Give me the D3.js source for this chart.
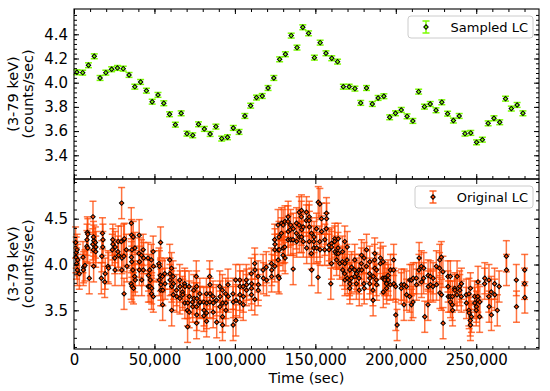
<!DOCTYPE html>
<html>
<head>
<meta charset="utf-8">
<script src="https://cdn.jsdelivr.net/npm/d3@7"></script>
<style>
  body { margin: 0; background: #fff; }
  text { font-family: "DejaVu Sans", sans-serif; }
</style>
</head>
<body>
<div id="chart"></div>
<script>
/* sampled light curve: time (sec) and rate (counts/sec) */
const sampledTime = [1800, 5400, 9000, 12600, 16200, 19800, 23400, 27000, 30600, 34200,
  37800, 41400, 45000, 48600, 52200, 55800, 59400, 63000, 66600, 70200,
  73800, 77400, 81000, 84600, 88200, 91800, 95400, 99000, 102600, 106200,
  109800, 113400, 117000, 120600, 124200, 127800, 131400, 135000, 138600, 142200,
  145800, 149400, 153000, 156600, 160200, 163800, 167400, 171000, 174600, 178200,
  181800, 185400, 189000, 192600, 196200, 199800, 203400, 207000, 210600, 214200,
  217800, 221400, 225000, 228600, 232200, 235800, 239400, 243000, 246600, 250200,
  253800, 257400, 261000, 264600, 268200, 271800, 275400, 279000];
const sampledRate = [4.086, 4.083, 4.144, 4.218, 4.039, 4.083, 4.111, 4.122, 4.116, 4.064,
  3.967, 4.006, 3.934, 3.843, 3.899, 3.830, 3.739, 3.653, 3.747, 3.579,
  3.565, 3.656, 3.618, 3.576, 3.637, 3.538, 3.549, 3.626, 3.593, 3.725,
  3.810, 3.877, 3.890, 3.956, 4.039, 4.193, 4.235, 4.389, 4.290, 4.458,
  4.408, 4.207, 4.331, 4.243, 4.202, 4.174, 3.967, 3.967, 3.951, 3.833,
  3.956, 3.824, 3.874, 3.888, 3.714, 3.747, 3.775, 3.722, 3.684, 3.926,
  3.802, 3.824, 3.772, 3.838, 3.744, 3.687, 3.725, 3.579, 3.585, 3.507,
  3.529, 3.664, 3.706, 3.673, 3.868, 3.786, 3.816, 3.747];
const sampledErr = 0.02;

/* original light curve: [time, rate] */
const originalLC = [
  [1000,4.24],[1400,4.13],[1200,4.08],[1600,4.01],[1900,4.16],[2300,4.05],[2100,3.94],[3300,3.90],
  [5600,4.08],[6000,3.97],[5800,3.94],[6800,3.99],[8000,4.20],[8300,4.35],[8600,4.33],[8100,4.27],[8500,4.18],
  [9500,3.85],[11800,4.52],[12200,3.98],[12000,4.16],[11700,4.22],[12300,4.26],[12100,4.30],
  [13300,4.24],[13600,4.19],[13500,4.14],[17000,3.85],[17300,4.09],[17700,4.34],[18000,4.27],[17900,4.19],
  [19100,3.81],[19400,3.90],[21100,3.98],[21500,3.96],[23800,4.16],[24100,4.27],[24200,4.22],
  [25300,4.07],[25600,4.19],[25500,3.94],[27300,4.14],[27700,4.10],[27500,4.25],
  [29600,4.67],[29400,4.25],[29800,4.07],[29700,3.94],[31100,3.68],[30900,4.27],[31300,4.28],[31000,4.09],
  [32500,4.16],[32900,3.98],[35600,4.45],[35800,4.32],[36000,4.16],[35700,4.08],[35900,4.03],[35500,3.79],[36100,3.76],
  [36800,4.30],[36600,3.94],[37000,3.74],[37900,4.18],[37700,3.87],[38100,3.83],
  [40400,4.12],[40700,4.03],[40600,3.94],[40500,4.32],[41900,4.10],[42100,3.83],
  [43000,4.16],[43300,4.07],[43100,3.94],[46000,4.07],[46300,3.88],[46200,3.76],
  [47200,3.76],[47000,3.94],[47400,3.83],[48100,4.05],[48300,3.74],[48200,3.68],
  [49200,4.14],[49400,3.98],[49300,3.65],[52800,4.01],[53100,3.98],[53000,3.83],
  [53800,4.24],[53700,3.88],[54000,3.78],[53900,3.72],[55000,3.87],[55200,3.72],[55100,3.56],
  [56400,3.90],[56600,3.79],[59500,4.05],[59700,3.83],[59600,3.90],[60600,3.96],[60800,3.76],[60700,3.50],
  [61600,3.87],[61800,3.79],[61700,3.67],[63700,3.72],[63900,3.65],[65700,3.83],[65900,3.76],[65800,3.63],
  [67400,3.70],[67600,3.67],[68800,3.79],[69000,3.76],[68900,3.58],[70500,3.50],[70600,3.32],[70700,3.58],
  [71500,3.76],[71700,3.65],[71600,3.48],[73600,3.59],[73800,3.54],[74400,3.72],[74600,3.63],
  [76000,3.87],[76200,3.76],[76400,3.63],[76100,3.54],[76300,3.45],[76200,3.36],
  [78100,3.58],[78300,3.59],[78200,3.68],[80600,3.59],[80800,3.50],[80700,3.44],
  [82300,3.68],[82500,3.58],[82400,3.47],[82400,3.38],[84300,3.87],[84500,3.78],[84600,3.68],[84400,3.59],
  [86400,3.65],[86600,3.58],[86500,3.48],[88500,3.61],[88700,3.37],[90600,3.76],[90800,3.65],[90700,3.54],
  [92200,3.72],[92400,3.58],[92300,3.43],[92300,3.34],[94300,3.68],[94500,3.58],[94400,3.50],
  [95700,3.78],[95900,3.65],[98800,3.68],[99000,3.59],[98900,3.34],[100500,3.83],[100700,3.61],[100600,3.39],
  [103000,3.83],[103200,3.76],[103100,3.67],[103000,3.59],[105100,3.76],[105300,3.65],[105200,3.56],
  [107100,3.83],[107300,3.78],[107200,3.72],[110200,3.90],[110400,3.79],[110300,3.74],[110300,3.67],
  [112300,4.01],[112500,3.94],[112400,3.62],[114400,3.87],[114600,3.78],[114500,3.72],
  [117500,3.94],[117700,3.85],[119500,3.97],[119700,3.83],[122700,4.01],[122900,3.94],[122800,3.87],
  [124700,4.27],[124900,4.22],[124800,4.16],[124800,3.98],[126800,4.43],[127000,4.16],[126900,4.05],[126900,3.87],
  [127500,3.85],[127600,4.16],[127400,4.30],[129000,4.45],[128900,4.34],[130000,4.43],[130100,4.18],[129900,4.10],
  [131100,4.47],[131000,4.19],[131200,4.07],[133100,4.52],[133000,4.47],[133200,4.36],[133100,4.27],
  [134600,4.43],[134500,4.38],[134700,4.27],[136200,3.95],[136100,4.27],[136300,4.39],
  [138300,4.45],[138200,4.34],[138400,4.25],[140000,4.57],[139900,4.43],[140100,4.30],
  [141400,4.59],[141300,4.52],[141500,4.38],[141400,4.30],[142400,4.41],[142500,4.25],
  [144500,4.57],[144400,4.48],[144600,4.18],[146200,4.52],[146100,4.48],[146300,4.41],[146200,4.25],
  [147600,4.34],[147500,4.12],[147700,3.94],[149100,4.18],[149000,4.25],[149200,4.30],
  [150700,4.39],[150800,4.18],[151800,4.68],[151700,3.86],[152800,4.66],[152700,4.25],[152900,4.16],
  [153800,4.50],[153900,4.36],[155900,4.27],[155800,4.16],[156900,4.56],[157000,4.50],[156800,4.39],
  [158600,4.21],[158500,4.16],[159600,3.79],[160000,4.23],[160100,4.19],[160000,4.01],
  [162100,4.28],[162000,4.25],[162200,4.14],[163100,4.12],[163200,4.05],[164200,4.28],[164100,4.18],[164300,4.12],
  [165200,4.01],[166900,4.14],[166800,4.03],[167000,3.94],[168300,4.01],[168200,3.90],[168400,3.83],[168300,4.25],
  [169800,4.19],[169700,4.05],[169900,3.85],[171400,3.94],[171300,3.83],[171500,3.79],[171400,3.74],
  [172500,3.97],[172400,3.85],[174500,4.05],[174400,3.94],[174600,3.87],[175600,3.90],[175500,3.79],
  [177200,3.94],[177100,3.85],[177300,3.72],[178700,4.10],[178600,4.01],[178800,3.94],
  [180300,4.07],[180200,3.79],[180400,3.74],[181800,4.16],[181700,3.98],
  [183800,4.03],[183700,3.90],[183900,3.85],[183800,3.79],[185900,3.61],[185800,3.72],[186000,3.87],
  [186900,4.12],[186800,4.05],[187000,3.96],[188000,3.94],[187900,3.83],[188100,3.78],
  [190500,4.07],[190400,4.01],[192100,4.03],[192000,3.85],[192200,3.70],[193200,3.85],[193100,3.83],
  [194200,3.79],[194300,3.74],[195200,3.88],[195300,3.83],[196700,3.94],[196600,3.78],
  [198700,4.05],[198600,3.94],[198800,3.79],[200000,3.45],[199900,3.76],[200800,3.34],
  [203500,3.78],[203400,3.74],[205200,3.78],[205100,3.56],[206600,3.76],[206700,3.67],
  [208700,3.83],[208600,3.65],[209700,3.56],[209800,3.83],[210800,3.85],[210700,3.59],
  [212800,3.85],[212900,3.78],[214500,4.07],[214400,3.94],[215900,3.98],[216000,3.81],
  [217400,3.96],[217300,3.85],[218000,3.43],[220100,3.88],[220000,3.56],[220200,3.76],
  [221500,3.87],[221600,3.78],[223200,3.85],[223100,3.76],[225200,3.98],[225300,3.78],
  [227300,4.05],[227200,3.96],[227400,3.69],[228300,4.08],[228400,3.67],[229400,3.36],[229300,3.92],
  [232500,3.76],[232400,3.87],[232600,3.65],[233900,3.87],[233800,3.65],[234000,3.59],
  [235200,3.65],[235100,3.56],[235300,3.50],[236600,3.74],[236700,3.72],[238100,3.87],[238000,3.67],
  [239700,3.76],[239800,3.72],[240800,3.79],[240700,3.65],[243900,3.58],[243800,3.67],
  [245500,3.68],[245400,3.50],[245600,3.47],[246400,3.74],[246300,3.39],[246400,3.34],[247000,3.43],
  [249000,3.65],[249100,3.58],[250100,3.54],[250000,3.50],[251100,3.81],[251000,3.65],[251200,3.61],
  [252200,3.59],[252100,3.43],[255300,3.85],[255200,3.79],[257900,3.83],[257800,3.65],[258000,3.54],
  [259400,3.45],[259300,3.70],[261500,3.67],[261400,3.79],[263100,3.50],[264200,3.76],
  [268700,4.09],[268800,3.94],[274900,3.83],[275000,3.54],[280100,3.94],[280000,3.79],[280200,3.64]
];
const originalErr = 0.17;

/* tick values */
const xTicks = [0, 50000, 100000, 150000, 200000, 250000];
const topYTicks = [3.4, 3.6, 3.8, 4.0, 4.2, 4.4];
const bottomYTicks = [3.5, 4.0, 4.5];

const width = 550;
const height = 391;
const margin = { left: 74, right: 11 };
const topPanel = { y0: 9, y1: 179 };
const bottomPanel = { y0: 179, y1: 349 };
const tickFont = 15;
const labelFont = 14.5;

const svg = d3.select("#chart")
    .append("svg")
    .attr("width", width)
    .attr("height", height);

// scales
const xScale = d3.scaleLinear()
    .domain([0, 289000])
    .range([margin.left, width - margin.right]);

const yTop = d3.scaleLinear()
    .domain([3.204, 4.609])
    .range([topPanel.y1, topPanel.y0]);

const yBottom = d3.scaleLinear()
    .domain([3.078, 4.933])
    .range([bottomPanel.y1, bottomPanel.y0]);

const xMinor = d3.range(0, 289000, 10000);
const topMinor = d3.range(3.24, 4.6, 0.04);
const bottomMinor = d3.range(3.1, 4.93, 0.1);

const noDomain = g => g.select(".domain").remove();

// draw ticks on all four sides (pointing inwards) plus labels
function drawAxes(panel, yScale, majorY, minorY, showX, topMinorTicks) {
    const xr = xScale.range();

    // left
    svg.append("g")
        .attr("transform", `translate(${xr[0]},0)`)
        .call(d3.axisLeft(yScale).tickValues(minorY).tickSize(-3).tickFormat(""))
        .call(noDomain);
    svg.append("g")
        .attr("class", "ylab")
        .attr("transform", `translate(${xr[0]},0)`)
        .call(d3.axisLeft(yScale).tickValues(majorY).tickSize(-5).tickPadding(6).tickFormat(d3.format(".1f")))
        .call(noDomain);

    // right
    svg.append("g")
        .attr("transform", `translate(${xr[1]},0)`)
        .call(d3.axisRight(yScale).tickValues(minorY).tickSize(-3).tickFormat(""))
        .call(noDomain);
    svg.append("g")
        .attr("transform", `translate(${xr[1]},0)`)
        .call(d3.axisRight(yScale).tickValues(majorY).tickSize(-5).tickFormat(""))
        .call(noDomain);

    // top
    if (topMinorTicks) {
        svg.append("g")
            .attr("transform", `translate(0,${panel.y0})`)
            .call(d3.axisTop(xScale).tickValues(xMinor).tickSize(-3).tickFormat(""))
            .call(noDomain);
    }
    svg.append("g")
        .attr("transform", `translate(0,${panel.y0})`)
        .call(d3.axisTop(xScale).tickValues(xTicks).tickSize(-5).tickFormat(""))
        .call(noDomain);

    // bottom
    svg.append("g")
        .attr("transform", `translate(0,${panel.y1})`)
        .call(d3.axisBottom(xScale).tickValues(xMinor).tickSize(-3).tickFormat(""))
        .call(noDomain);
    svg.append("g")
        .attr("class", "xlab")
        .attr("transform", `translate(0,${panel.y1})`)
        .call(d3.axisBottom(xScale).tickValues(xTicks).tickSize(-5).tickPadding(5)
            .tickFormat(showX ? d3.format(",") : ""))
        .call(noDomain);

    // frame
    svg.append("rect")
        .attr("x", xr[0])
        .attr("y", panel.y0)
        .attr("width", xr[1] - xr[0])
        .attr("height", panel.y1 - panel.y0)
        .attr("fill", "none")
        .attr("stroke", "#000")
        .attr("stroke-width", 1.1);

    // two-line y label
    const cy = (panel.y0 + panel.y1) / 2;
    [["(3-79 keV)", 13], ["(counts/sec)", 28]].forEach(([txt, cx]) => {
        svg.append("text")
            .attr("transform", `translate(${cx},${cy}) rotate(-90)`)
            .attr("text-anchor", "middle")
            .attr("dominant-baseline", "central")
            .attr("font-size", labelFont)
            .attr("fill", "#000")
            .text(txt);
    });
}

const diamond = d3.symbol().type(d3.symbolSquare).size(10);

function drawErrorbars(g, pts, yScale, err, color, opacity) {
    const cap = 3.5;
    const bars = g.append("g")
        .attr("stroke", color)
        .attr("stroke-opacity", opacity)
        .attr("stroke-width", 1.5)
        .selectAll("g")
        .data(pts)
        .join("g");
    bars.append("line")
        .attr("x1", d => xScale(d[0])).attr("x2", d => xScale(d[0]))
        .attr("y1", d => yScale(d[1] - err)).attr("y2", d => yScale(d[1] + err));
    bars.append("line")
        .attr("x1", d => xScale(d[0]) - cap).attr("x2", d => xScale(d[0]) + cap)
        .attr("y1", d => yScale(d[1] - err)).attr("y2", d => yScale(d[1] - err));
    bars.append("line")
        .attr("x1", d => xScale(d[0]) - cap).attr("x2", d => xScale(d[0]) + cap)
        .attr("y1", d => yScale(d[1] + err)).attr("y2", d => yScale(d[1] + err));
}

function drawMarkers(g, pts, yScale, fill) {
    g.append("g")
        .selectAll("path")
        .data(pts)
        .join("path")
        .attr("d", diamond)
        .attr("transform", d => `translate(${xScale(d[0])},${yScale(d[1])}) rotate(45)`)
        .attr("fill", fill)
        .attr("stroke", "#000")
        .attr("stroke-width", 1);
}

function drawLegend(box, label, color, opacity) {
    const g = svg.append("g");
    g.append("rect")
        .attr("x", box.x).attr("y", box.y)
        .attr("width", box.w).attr("height", box.h)
        .attr("rx", 3)
        .attr("fill", "#fff").attr("fill-opacity", 0.8)
        .attr("stroke", "#ccc");
    const mx = box.x + 18;
    const my = box.y + box.h / 2;
    g.append("g")
        .attr("stroke", color).attr("stroke-opacity", opacity).attr("stroke-width", 1.5)
        .call(s => {
            s.append("line").attr("x1", mx).attr("x2", mx).attr("y1", my - 6).attr("y2", my + 6);
            s.append("line").attr("x1", mx - 3.5).attr("x2", mx + 3.5).attr("y1", my - 6).attr("y2", my - 6);
            s.append("line").attr("x1", mx - 3.5).attr("x2", mx + 3.5).attr("y1", my + 6).attr("y2", my + 6);
        });
    g.append("path")
        .attr("d", diamond)
        .attr("transform", `translate(${mx},${my}) rotate(45)`)
        .attr("fill", color).attr("stroke", "#000");
    g.append("text")
        .attr("x", box.x + box.w - 5)
        .attr("y", my)
        .attr("text-anchor", "end")
        .attr("dominant-baseline", "central")
        .attr("font-size", 13)
        .text(label);
}

const sampledPts = sampledTime.map((t, i) => [t, sampledRate[i]]);

// top panel
const gTop = svg.append("g");
drawErrorbars(gTop, sampledPts, yTop, sampledErr, "#7CFC00", 1);
drawMarkers(gTop, sampledPts, yTop, "#7CFC00");
drawAxes(topPanel, yTop, topYTicks, topMinor, false, true);
drawLegend({ x: 408, y: 16, w: 125, h: 22 }, "Sampled LC", "#7CFC00", 1);

// bottom panel
const gBottom = svg.append("g");
drawErrorbars(gBottom, originalLC, yBottom, originalErr, "#FF4500", 0.75);
drawMarkers(gBottom, originalLC, yBottom, "#FF4500");
drawAxes(bottomPanel, yBottom, bottomYTicks, bottomMinor, true, false);
drawLegend({ x: 415, y: 186, w: 118, h: 22 }, "Original LC", "#FF4500", 0.85);

svg.selectAll(".ylab text, .xlab text")
    .attr("font-family", "DejaVu Sans")
    .attr("font-size", tickFont)
    .attr("fill", "#000");
svg.selectAll(".tick line").attr("stroke", "#000");

svg.append("text")
    .attr("x", (xScale.range()[0] + xScale.range()[1]) / 2)
    .attr("y", 383)
    .attr("text-anchor", "middle")
    .attr("font-size", labelFont)
    .text("Time (sec)");
</script>
</body>
</html>
